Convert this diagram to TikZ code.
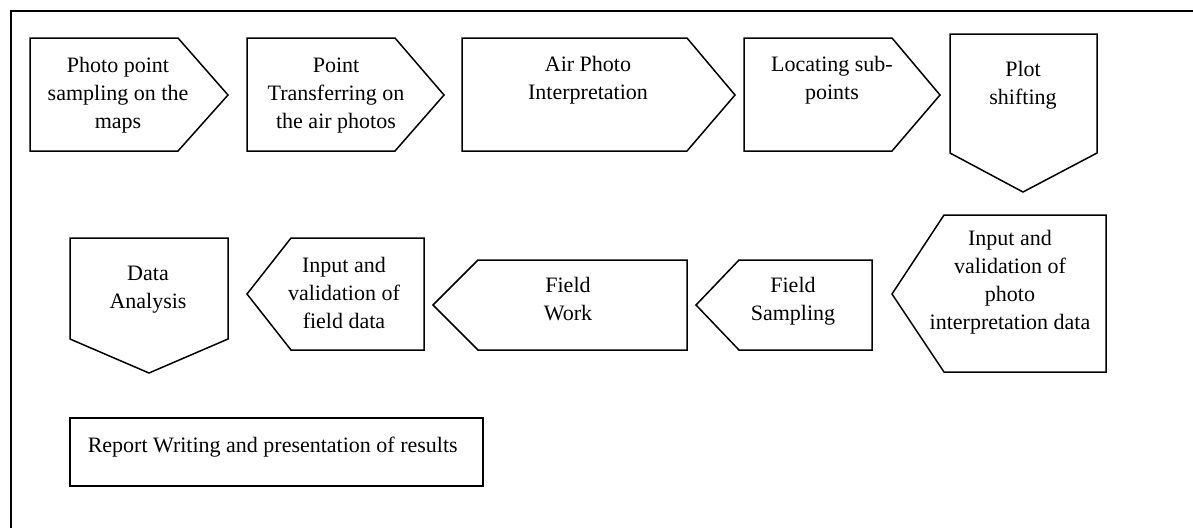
\documentclass[tikz,border=0pt]{standalone}
\usepackage{fontspec}
\setmainfont{Liberation Serif}

\def \toptop {38}
\def \topbot {151}
\def \topmid {95}

\begin{document}
\begin{tikzpicture}[x=0.5pt, y=-0.5pt, line width=0.75pt,
  txt/.style={align=center, font=\fontsize{11}{14}\selectfont, inner sep=0pt, anchor=base}]
\useasboundingbox (0,0) rectangle (1193,527);
\clip (0,0) rectangle (1193,527);
\draw (11,11) rectangle (1230,560); % frame, cut at right and bottom

% first row, pointing right (text placed by its last line)
\draw (30,\toptop) -- (178,\toptop) -- (228,\topmid) -- (178,\topbot) -- (30,\topbot) -- cycle;
\node[txt] (photo) at (118,128) {Photo point\\sampling on the\\maps};
\draw (247,\toptop) -- (395,\toptop) -- (444,\topmid) -- (395,\topbot) -- (247,\topbot) -- cycle;
\node[txt] (transfer) at (336,128) {Point\\Transferring on\\the air photos};
\draw (462,\toptop) -- (687,\toptop) -- (735,\topmid) -- (687,\topbot) -- (462,\topbot) -- cycle;
\node[txt] (interp) at (588,99) {Air Photo\\Interpretation};
\draw (744,\toptop) -- (892,\toptop) -- (940,\topmid) -- (892,\topbot) -- (744,\topbot) -- cycle;
\node[txt] (locate) at (832,99) {Locating sub-\\points};
\draw (950,34) -- (1097,34) -- (1097,153) -- (1023,192) -- (950,153) -- cycle; % down
\node[txt] (shift) at (1023,104) {Plot\\shifting};

% second row, pointing left
\draw (1106,215) -- (1106,372) -- (944,372) -- (892,294) -- (944,215) -- cycle;
\node[txt] (inphoto) at (1010,329) {Input and\\validation of\\photo\\interpretation data};
\draw (872,260) -- (872,350) -- (739,350) -- (696,305) -- (739,260) -- cycle;
\node[txt] (fsample) at (793,320) {Field\\Sampling};
\draw (687,260) -- (687,350) -- (478,350) -- (433,305) -- (478,260) -- cycle;
\node[txt] (fwork) at (568,320) {Field\\Work};
\draw (424,238) -- (424,350) -- (291,350) -- (247,294) -- (291,238) -- cycle;
\node[txt] (infield) at (344,328) {Input and\\validation of\\field data};
\draw (70,238) -- (228,238) -- (228,339) -- (149,373) -- (70,339) -- cycle; % down
\node[txt] (analysis) at (148,308) {Data\\Analysis};

% last step
\draw (70,418) rectangle (483,486);
\node[txt, anchor=base west] (report) at (87,452) {Report Writing and presentation of results};
\end{tikzpicture}
\end{document}
